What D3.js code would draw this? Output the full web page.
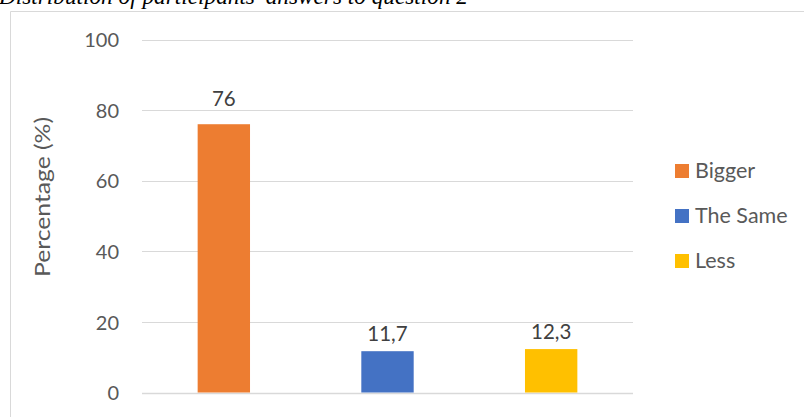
<!DOCTYPE html>
<html><head><meta charset="utf-8">
<script src="https://cdn.jsdelivr.net/npm/d3@7"></script>
<style>body{margin:0;background:#fff;}svg{display:block;}</style>
</head><body>
<svg id="c" width="804" height="417"></svg>
<script>
const categories = ["Bigger", "The Same", "Less"];
const values = [76, 11.7, 12.3];
const labels = ["76", "11,7", "12,3"];
const colors = ["#ED7D31", "#4472C4", "#FFC000"];
const yTicks = [0, 20, 40, 60, 80, 100];
const title = "Distribution of participants' answers to question 2";
const yTitle = "Percentage (%)";

const svg = d3.select("#c");
const font = "Lato, 'Open Sans', sans-serif";
const textColor = "#595959";

// chart border (frame)
svg.append("path").attr("d", "M10.5,417 V11.5 H804")
  .attr("fill", "none").attr("stroke", "#d9d9d9").attr("stroke-width", 1);

// title (cropped at top, as in the source image)
svg.append("text").attr("x", -1).attr("y", 4)
  .attr("font-family", "'Liberation Serif', serif").attr("font-style", "italic")
  .attr("font-size", 23).attr("fill", "#000")
  .attr("textLength", 469).attr("lengthAdjust", "spacingAndGlyphs")
  .text(title);

const x = d3.scaleBand().domain(categories).range([142, 633]).paddingInner(0.68).paddingOuter(0.34);
const y = d3.scaleLinear().domain([0, 100]).range([392.5, 39.5]);

// gridlines
svg.append("g").selectAll("line").data(yTicks).join("line")
  .attr("x1", 142).attr("x2", 633)
  .attr("y1", d => Math.round(y(d)) + 0.5).attr("y2", d => Math.round(y(d)) + 0.5)
  .attr("stroke", "#d9d9d9").attr("stroke-width", d => d === 0 ? 1.5 : 1.2);

// y axis via d3 axis
const yAxis = svg.append("g").attr("transform", "translate(132,0)")
  .call(d3.axisLeft(y).tickValues(yTicks).tickSize(0).tickPadding(0).tickFormat(d3.format("d")));
yAxis.select(".domain").remove();
yAxis.selectAll("text").attr("font-family", font).attr("font-size", 20)
  .attr("fill", textColor).attr("dy", "0.36em").attr("x", -13);

// y title
svg.append("text").attr("transform", "translate(50,197) rotate(-90)")
  .attr("text-anchor", "middle").attr("font-family", font).attr("font-size", 22)
  .attr("textLength", 160).attr("lengthAdjust", "spacingAndGlyphs")
  .attr("fill", textColor).text(yTitle);

// bars
svg.append("g").selectAll("rect").data(values).join("rect")
  .attr("x", (d, i) => x(categories[i])).attr("width", x.bandwidth())
  .attr("y", d => y(d)).attr("height", d => y(0) - y(d))
  .attr("fill", (d, i) => colors[i]);

// data labels with gridline collision avoidance
const labelSize = 20.5, capH = 14.5;
svg.append("g").selectAll("text").data(values).join("text")
  .attr("x", (d, i) => x(categories[i]) + x.bandwidth() / 2)
  .attr("y", d => {
    let b = y(d) - 10;
    yTicks.forEach(t => { const gy = y(t); if (gy > b - capH && gy < b + 2) b = gy - 4; });
    return b;
  })
  .attr("text-anchor", "middle").attr("font-family", font).attr("font-size", labelSize)
  .attr("fill", "#404040").text((d, i) => labels[i]);

// legend
const lg = svg.append("g").selectAll("g").data(categories).join("g")
  .attr("transform", (d, i) => `translate(675,${164 + i * 45})`);
lg.append("rect").attr("width", 14).attr("height", 14).attr("fill", (d, i) => colors[i]);
lg.append("text").attr("x", 20).attr("y", 13.5).attr("font-family", font).attr("font-size", 21.5)
  .attr("fill", textColor).text(d => d);
</script>
</body></html>
